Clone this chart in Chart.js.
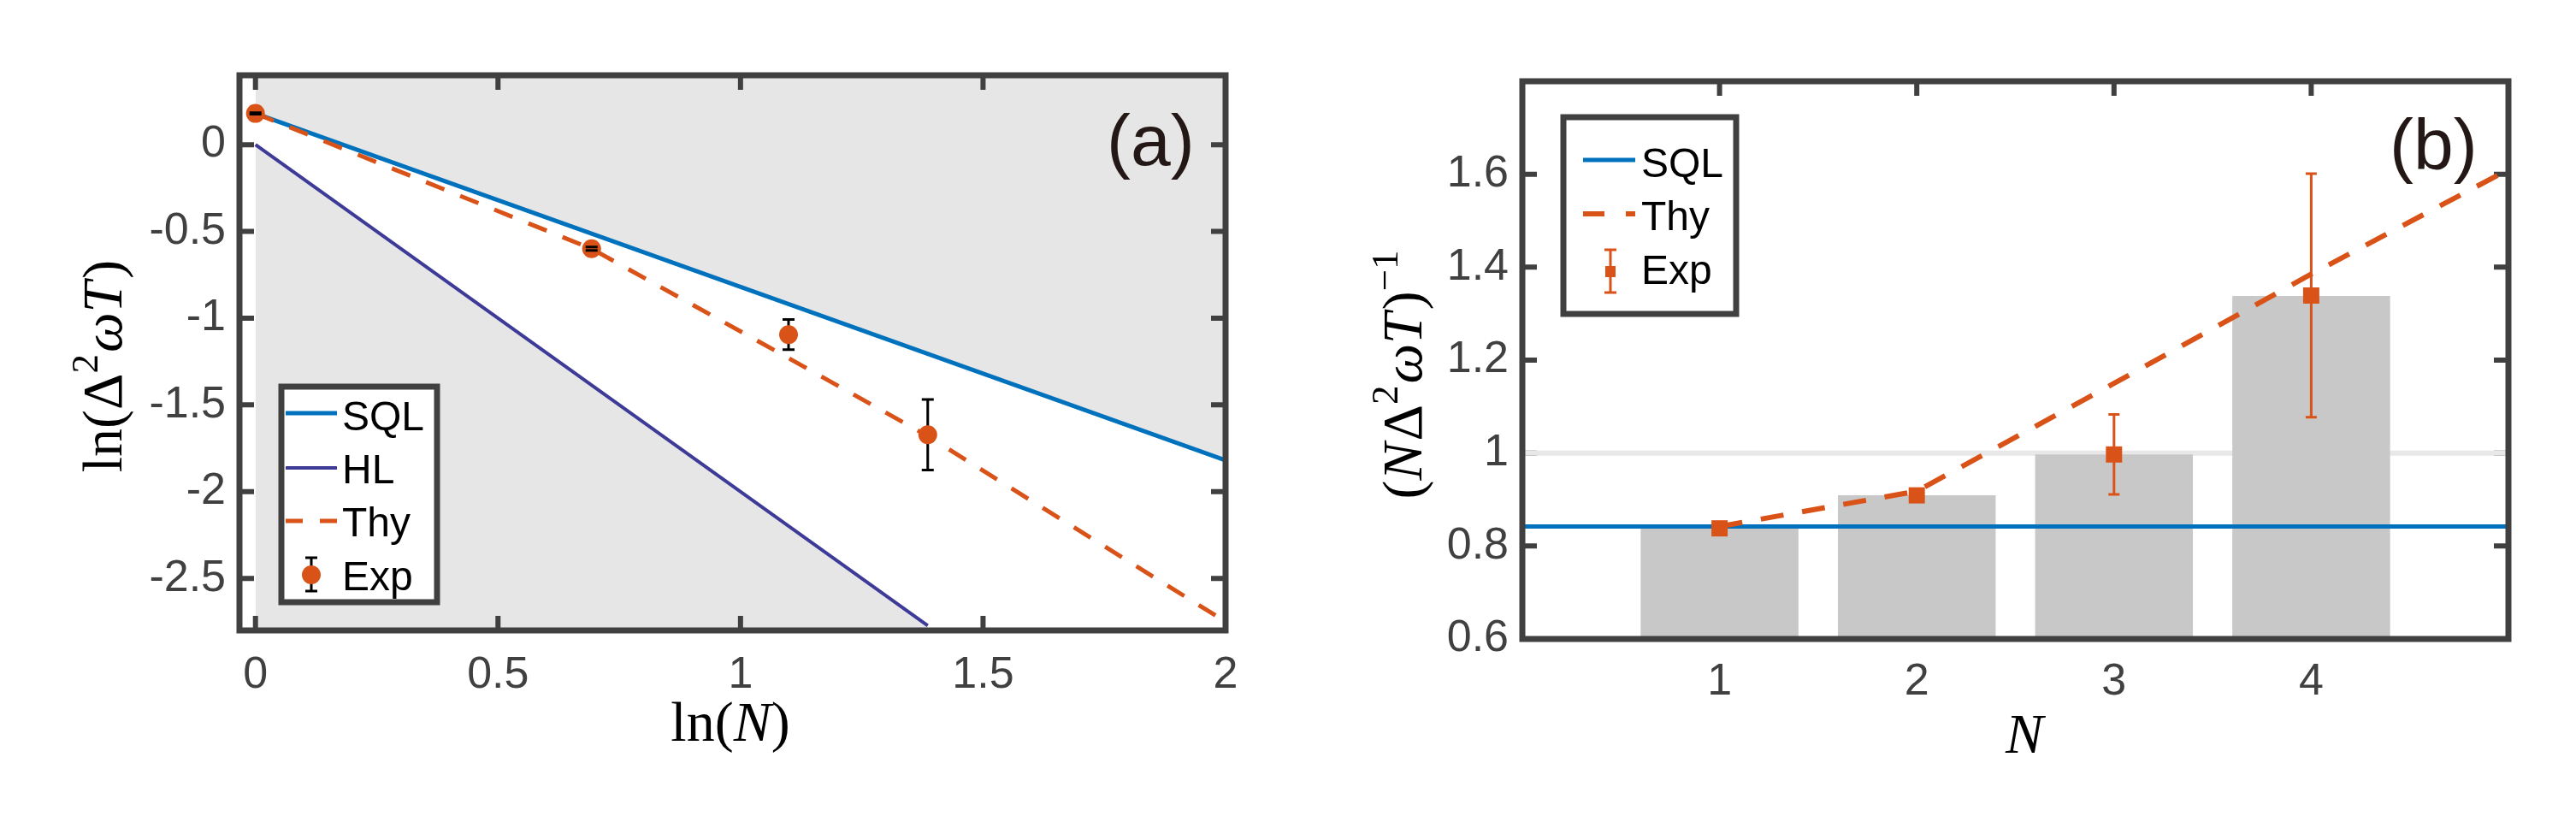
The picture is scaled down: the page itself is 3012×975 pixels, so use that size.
<!DOCTYPE html>
<html>
<head>
<meta charset="utf-8">
<script src="https://cdn.jsdelivr.net/npm/chart.js@4.4.1/dist/chart.umd.min.js"></script>
<style>
    html, body { margin: 0; padding: 0; background: #fff; }
    #wrap { position: relative; width: 3012px; height: 975px; }
    #chartA { position: absolute; left: 0; top: 0; }
    #chartB { position: absolute; left: 1500px; top: 0; }
</style>
</head>
<body>
<div id="wrap">
    <canvas id="chartA" width="1500" height="975"></canvas>
    <canvas id="chartB" width="1512" height="975"></canvas>
</div>
<script>
// ---- panel (a): ln(Δ²ωT) against ln(N) ----
let expA_x = [0, 0.693, 1.099, 1.386];
let expA_y = [0.18, -0.60, -1.095, -1.672];
let expA_err = [0.004, 0.01, 0.087, 0.203];

let sqlA_x = [0, 2];
let sqlA_y = [0.18, -1.82];
let hlA_x = [0, 1.386];
let hlA_y = [0, -2.772];
let thyA_x = [0, 0.693, 1.099, 1.386, 2];
let thyA_y = [0.18, -0.60, -1.23, -1.68, -2.75];

let ticksA_x = [0, 0.5, 1, 1.5, 2];
let ticksA_y = [0, -0.5, -1, -1.5, -2, -2.5];

// ---- panel (b): (NΔ²ωT)^-1 against N ----
let barsB_x = [1, 2, 3, 4];
let barsB_y = [0.838, 0.909, 0.997, 1.338];
let expB_x = [1, 2, 3, 4];
let expB_y = [0.838, 0.909, 0.997, 1.339];
let expB_err = [0.008, 0.009, 0.086, 0.262];
let sqlB_x = [0, 5];
let sqlB_y = [0.842, 0.842];
let refB_x = [0, 5];
let refB_y = [1, 1];
let thyB_x = [1, 2, 3, 4, 5];
let thyB_y = [0.842, 0.918, 1.15, 1.385, 1.61];

let ticksB_x = [1, 2, 3, 4];
let ticksB_y = [0.6, 0.8, 1, 1.2, 1.4, 1.6];

const BLUE = '#0072BD';
const PURPLE = '#3D3A98';
const ORANGE = '#D95319';
const AXIS = '#404040';
const SANS = '"Liberation Sans", Arial, sans-serif';
const SERIF = '"Liberation Serif", "Times New Roman", serif';

Chart.defaults.font.family = SANS;

function pts(xs, ys) {
    return xs.map((x, i) => ({x: x, y: ys[i]}));
}

// inward ticks + box, MATLAB style
function drawTicks(chart) {
    let ctx = chart.ctx;
    let a = chart.chartArea;
    let len = 17;
    ctx.save();
    ctx.strokeStyle = AXIS;
    ctx.lineWidth = 6;
    ctx.beginPath();
    chart.scales.x.ticks.forEach(t => {
        let px = chart.scales.x.getPixelForValue(t.value);
        ctx.moveTo(px, a.bottom); ctx.lineTo(px, a.bottom - len);
        ctx.moveTo(px, a.top); ctx.lineTo(px, a.top + len);
    });
    chart.scales.y.ticks.forEach(t => {
        let py = chart.scales.y.getPixelForValue(t.value);
        ctx.moveTo(a.left, py); ctx.lineTo(a.left + len, py);
        ctx.moveTo(a.right, py); ctx.lineTo(a.right - len, py);
    });
    ctx.stroke();
    ctx.restore();
}

function drawBox(chart) {
    let ctx = chart.ctx;
    let a = chart.chartArea;
    ctx.save();
    ctx.strokeStyle = AXIS;
    ctx.lineWidth = 7;
    ctx.strokeRect(a.left, a.top, a.right - a.left, a.bottom - a.top);
    ctx.restore();
}

let framePlugin = {
    id: 'frame',
    beforeDatasetsDraw(chart, args, opts) {
        if (!opts.ticksOnTop) drawTicks(chart);
    },
    afterDatasetsDraw(chart, args, opts) {
        if (opts.ticksOnTop) drawTicks(chart);
        drawBox(chart);
    }
};

// error bars: stems under the markers, caps over them
function drawErr(chart, ds, caps) {
    let ctx = chart.ctx;
    let xs = chart.scales.x;
    let ys = chart.scales.y;
    let c = ds.errCap / 2;
    ctx.save();
    ctx.strokeStyle = ds.errColor;
    ctx.lineWidth = ds.errWidth;
    ctx.beginPath();
    ds.data.forEach((p, i) => {
        let px = xs.getPixelForValue(p.x);
        let top = ys.getPixelForValue(p.y + ds.yErr[i]);
        let bot = ys.getPixelForValue(p.y - ds.yErr[i]);
        if (!caps) {
            ctx.moveTo(px, top); ctx.lineTo(px, bot);
        } else {
            ctx.moveTo(px - c, top); ctx.lineTo(px + c, top);
            ctx.moveTo(px - c, bot); ctx.lineTo(px + c, bot);
        }
    });
    ctx.stroke();
    ctx.restore();
}

let errorBarPlugin = {
    id: 'errorBars',
    beforeDatasetDraw(chart, args) {
        let ds = chart.data.datasets[args.index];
        if (ds.yErr) drawErr(chart, ds, false);
    },
    afterDatasetDraw(chart, args) {
        let ds = chart.data.datasets[args.index];
        if (ds.yErr) drawErr(chart, ds, true);
    }
};

// text with italic / superscript parts, centred on (cx, cy) at the baseline
function drawMath(ctx, parts, size, cx, cy, vertical) {
    let fontOf = p => (p.i ? 'italic ' : '') + Math.round(p.s ? size * 0.68 : size) + 'px ' + SERIF;
    ctx.save();
    ctx.translate(cx, cy);
    if (vertical) ctx.rotate(-Math.PI / 2);
    let w = 0;
    parts.forEach(p => {
        ctx.font = fontOf(p);
        p.w = ctx.measureText(p.t).width + (p.gap || 0);
        w += p.w;
    });
    let x = -w / 2;
    ctx.fillStyle = '#000';
    ctx.textBaseline = 'alphabetic';
    ctx.textAlign = 'left';
    parts.forEach(p => {
        ctx.font = fontOf(p);
        ctx.fillText(p.t, x, p.s ? -size * 0.42 : 0);
        x += p.w;
    });
    ctx.restore();
}

function legendBox(ctx, x, y, w, h) {
    ctx.fillStyle = '#fff';
    ctx.fillRect(x, y, w, h);
    ctx.strokeStyle = AXIS;
    ctx.lineWidth = 7;
    ctx.strokeRect(x, y, w, h);
}

function legendText(ctx, text, x, y) {
    ctx.fillStyle = '#000';
    ctx.font = '48px ' + SANS;
    ctx.textAlign = 'left';
    ctx.textBaseline = 'alphabetic';
    ctx.fillText(text, x, y);
}

function legendLine(ctx, x1, x2, y, color, width, dash) {
    ctx.save();
    ctx.strokeStyle = color;
    ctx.lineWidth = width;
    ctx.setLineDash(dash || []);
    ctx.beginPath();
    ctx.moveTo(x1, y); ctx.lineTo(x2, y);
    ctx.stroke();
    ctx.restore();
}

function axisOpts(min, max, tickList, pad, size, horizontal) {
    let o = {
        type: 'linear',
        min: min,
        max: max,
        afterBuildTicks: s => { s.ticks = tickList.map(v => ({value: v})); },
        grid: {display: false, drawTicks: false},
        border: {display: false},
        ticks: {
            padding: pad,
            color: AXIS,
            autoSkip: false,
            maxRotation: 0,
            font: {family: SANS, size: 52},
            callback: v => String(v)
        }
    };
    if (horizontal) o.afterFit = s => { s.height = size; };
    else o.afterFit = s => { s.width = size; };
    return o;
}

// ---------- chart (a) ----------
let decorA = {
    id: 'decorA',
    afterDraw(chart) {
        let ctx = chart.ctx;
        ctx.save();
        // legend
        legendBox(ctx, 329, 452, 182, 252);
        legendLine(ctx, 334, 394, 483, BLUE, 5);
        legendText(ctx, 'SQL', 400, 503);
        legendLine(ctx, 334, 394, 547, PURPLE, 4);
        legendText(ctx, 'HL', 400, 565);
        legendLine(ctx, 334, 394, 609, ORANGE, 5, [20, 20]);
        legendText(ctx, 'Thy', 400, 627);
        ctx.strokeStyle = '#000';
        ctx.lineWidth = 3;
        ctx.beginPath();
        ctx.moveTo(364, 652); ctx.lineTo(364, 691);
        ctx.stroke();
        ctx.fillStyle = ORANGE;
        ctx.beginPath();
        ctx.arc(364, 672, 11, 0, Math.PI * 2);
        ctx.fill();
        ctx.beginPath();
        ctx.moveTo(357, 652); ctx.lineTo(371, 652);
        ctx.moveTo(357, 691); ctx.lineTo(371, 691);
        ctx.stroke();
        legendText(ctx, 'Exp', 400, 690);

        // panel tag
        ctx.fillStyle = '#231815';
        ctx.font = '84px ' + SANS;
        ctx.textAlign = 'left';
        ctx.fillText('(a)', 1294, 193);

        // axis titles
        drawMath(ctx, [
            {t: 'ln'}, {t: '('}, {t: 'N', i: true}, {t: ')'}
        ], 66, 854, 866, false);
        drawMath(ctx, [
            {t: 'ln'}, {t: '('}, {t: 'Δ'}, {t: '2', s: true, gap: 2}, {t: 'ω', i: true}, {t: 'T', i: true, gap: 3}, {t: ')'}
        ], 66, 142, 428, true);
        ctx.restore();
    }
};

new Chart(document.getElementById('chartA'), {
    type: 'scatter',
    data: {
        datasets: [
            {
                label: 'Exp',
                data: pts(expA_x, expA_y),
                showLine: false,
                pointRadius: 11,
                pointBorderWidth: 0,
                pointBackgroundColor: ORANGE,
                yErr: expA_err,
                errColor: '#000',
                errWidth: 3,
                errCap: 14,
                order: 0
            },
            {
                label: 'Thy',
                data: pts(thyA_x, thyA_y),
                showLine: true,
                borderColor: ORANGE,
                borderWidth: 5,
                borderDash: [23, 20],
                pointRadius: 0,
                fill: false,
                order: 1
            },
            {
                label: 'HL',
                data: pts(hlA_x, hlA_y),
                showLine: true,
                borderColor: PURPLE,
                borderWidth: 4,
                pointRadius: 0,
                fill: 'start',
                backgroundColor: '#E6E6E6',
                order: 2
            },
            {
                label: 'SQL',
                data: pts(sqlA_x, sqlA_y),
                showLine: true,
                borderColor: BLUE,
                borderWidth: 5,
                pointRadius: 0,
                fill: 'end',
                backgroundColor: '#E6E6E6',
                order: 3
            }
        ]
    },
    options: {
        responsive: false,
        devicePixelRatio: 1,
        animation: false,
        layout: {padding: {left: 0, right: 67, top: 88, bottom: 0}},
        scales: {
            x: axisOpts(-0.033, 2, ticksA_x, 21, 238, true),
            y: axisOpts(-2.8, 0.4, ticksA_y, 16, 280, false)
        },
        plugins: {
            legend: {display: false},
            tooltip: {enabled: false},
            frame: {ticksOnTop: true}
        }
    },
    plugins: [framePlugin, errorBarPlugin, decorA]
});

// ---------- chart (b) ----------
let decorB = {
    id: 'decorB',
    afterDraw(chart) {
        let ctx = chart.ctx;
        ctx.save();
        legendBox(ctx, 328, 137, 202, 230);
        legendLine(ctx, 351, 412, 187, BLUE, 5);
        legendText(ctx, 'SQL', 419, 207);
        legendLine(ctx, 351, 412, 250, ORANGE, 6, [25, 25]);
        legendText(ctx, 'Thy', 419, 269);
        ctx.strokeStyle = ORANGE;
        ctx.lineWidth = 3;
        ctx.beginPath();
        ctx.moveTo(383, 292); ctx.lineTo(383, 342);
        ctx.moveTo(376, 292); ctx.lineTo(390, 292);
        ctx.moveTo(376, 342); ctx.lineTo(390, 342);
        ctx.stroke();
        ctx.fillStyle = ORANGE;
        ctx.fillRect(377, 311, 12, 13);
        legendText(ctx, 'Exp', 419, 332);

        ctx.fillStyle = '#231815';
        ctx.font = '84px ' + SANS;
        ctx.textAlign = 'left';
        ctx.fillText('(b)', 1294, 198);

        drawMath(ctx, [{t: 'N', i: true}], 66, 867, 880, false);
        drawMath(ctx, [
            {t: '('}, {t: 'N', i: true, gap: 2}, {t: 'Δ'}, {t: '2', s: true, gap: 2}, {t: 'ω', i: true},
            {t: 'T', i: true, gap: 3}, {t: ')'}, {t: '−1', s: true}
        ], 66, 162, 438, true);
        ctx.restore();
    }
};

new Chart(document.getElementById('chartB'), {
    type: 'bar',
    data: {
        datasets: [
            {
                type: 'line',
                label: 'Exp',
                data: pts(expB_x, expB_y),
                showLine: false,
                pointStyle: 'rect',
                pointRadius: 13.4,
                pointBorderWidth: 0,
                pointBackgroundColor: ORANGE,
                yErr: expB_err,
                errColor: ORANGE,
                errWidth: 3,
                errCap: 13,
                order: 0
            },
            {
                type: 'line',
                label: 'Thy',
                data: pts(thyB_x, thyB_y),
                borderColor: ORANGE,
                borderWidth: 6,
                borderDash: [27, 22],
                pointRadius: 0,
                fill: false,
                order: 1
            },
            {
                type: 'line',
                label: 'SQL',
                data: pts(sqlB_x, sqlB_y),
                borderColor: BLUE,
                borderWidth: 5,
                pointRadius: 0,
                fill: false,
                order: 2
            },
            {
                type: 'bar',
                label: 'bars',
                data: pts(barsB_x, barsB_y),
                backgroundColor: '#C8C8C8',
                barPercentage: 0.8,
                categoryPercentage: 1,
                order: 3
            },
            {
                type: 'line',
                label: 'one',
                data: pts(refB_x, refB_y),
                borderColor: '#E8E8E8',
                borderWidth: 6,
                pointRadius: 0,
                fill: false,
                order: 4
            }
        ]
    },
    options: {
        responsive: false,
        devicePixelRatio: 1,
        animation: false,
        layout: {padding: {left: 0, right: 79, top: 95, bottom: 0}},
        scales: {
            x: Object.assign(axisOpts(0, 5, ticksB_x, 19, 228, true), {offset: false}),
            y: axisOpts(0.6, 1.8, ticksB_y, 16, 280, false)
        },
        plugins: {
            legend: {display: false},
            tooltip: {enabled: false},
            frame: {ticksOnTop: false}
        }
    },
    plugins: [framePlugin, errorBarPlugin, decorB]
});
</script>
</body>
</html>
